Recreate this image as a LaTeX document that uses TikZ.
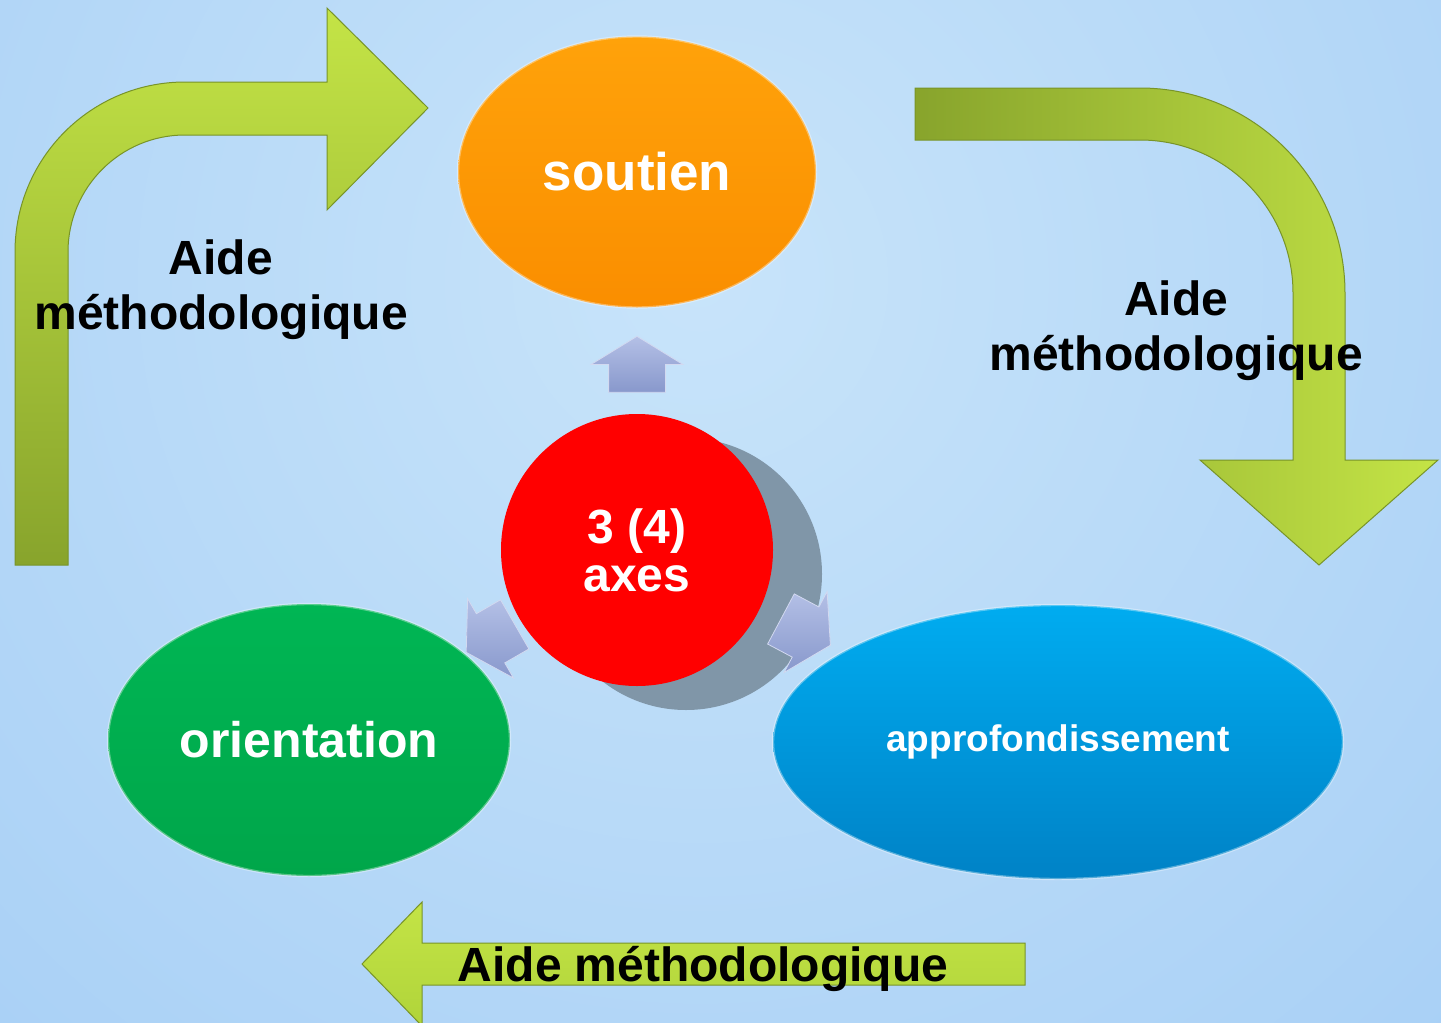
\documentclass[tikz,border=0pt]{standalone}
\usepackage{fontspec}
\setmainfont{Liberation Sans}
\usetikzlibrary{shapes.geometric,shapes.arrows}

\definecolor{bgside}{RGB}{156,200,244}
\definecolor{bgmid}{RGB}{200,228,250}
\definecolor{leaf}{RGB}{176,212,58}
\definecolor{leafdark}{RGB}{136,164,44}
\definecolor{leaflight}{RGB}{196,228,70}
\definecolor{leafedge}{RGB}{120,148,40}
\definecolor{orangetop}{RGB}{255,162,10}
\definecolor{orangebot}{RGB}{250,142,0}
\definecolor{greentop}{RGB}{0,182,84}
\definecolor{greenbot}{RGB}{0,166,74}
\definecolor{bluetop}{RGB}{0,172,240}
\definecolor{bluebot}{RGB}{0,130,198}
\definecolor{shadowgrey}{RGB}{128,150,168}
\definecolor{ptrtop}{RGB}{180,192,230}
\definecolor{ptrbot}{RGB}{136,152,204}

\begin{document}
\begin{tikzpicture}[x=0.5pt,y=-0.5pt,
    bubble/.style={ellipse,text=white,inner sep=0pt,draw=white,draw opacity=0.35,line width=1.2pt},
    pointer/.style={single arrow,draw=ptrtop!60!white,line width=0.4pt,top color=ptrtop,bottom color=ptrbot,
        minimum height=28pt,minimum width=45.5pt,single arrow head extend=8.75pt,single arrow tip angle=117,
        inner xsep=0pt,inner ysep=14pt},
    aidetext/.style={font=\bfseries\fontsize{24}{27.5}\selectfont,align=center,inner sep=0pt}]
    \useasboundingbox (0,0) rectangle (1441,1023);
    \clip (0,0) rectangle (1441,1023);
    \fill[bgside] (0,0) rectangle (1441,1023);
    \shade[inner color=bgmid,outer color=bgside] (700,280) circle[radius=1500];

    % bent arrows
    \shade[top color=leaflight,bottom color=leafdark,draw=leafedge,line width=0.5pt]
        (15,565)--(15,252) arc[start angle=180,end angle=270,radius=170]--(327,82)--(327,8)--(428,108)
        --(327,210)--(327,135)--(185,135) arc[start angle=270,end angle=180,radius=117]--(68,565)--cycle;
    \shade[left color=leafdark,right color=leaflight,draw=leafedge,line width=0.5pt]
        (915,88)--(1140,88) arc[start angle=270,end angle=360,radius=205]--(1345,460)--(1438,460)--(1319,565)
        --(1200,460)--(1293,460)--(1293,293) arc[start angle=0,end angle=-90,radius=153]--(915,140)--cycle;
    \shade[top color=leaflight,bottom color=leaf,draw=leafedge,line width=0.5pt]
        (1025,943)--(422,943)--(422,902)--(362,964)--(422,1026)--(422,985)--(1025,985)--cycle;

    \node[aidetext] (aideleft) at (221,290) {Aide\\méthodologique};
    \node[aidetext] (aideright) at (1176,331) {Aide\\méthodologique};
    \node[aidetext] (aidebottom) at (703,969) {Aide méthodologique};

    % centre
    \fill[shadowgrey] (686,574) circle[radius=136];
    \node[pointer,rotate=90] (ptrup) at (637,373) {};
    \node[pointer,rotate=210] (ptrleft) at (498,634) {};
    \node[pointer,rotate=-28] (ptrright) at (798,628) {};
    \node[circle,fill=red,minimum size=136pt,inner sep=0pt,text=white,align=center,
        font=\bfseries\fontsize{24}{24}\selectfont] (axes) at (637,550) {3 (4)\\axes};

    \node[bubble,minimum width=179pt,minimum height=135.5pt,top color=orangetop,bottom color=orangebot,
        font=\bfseries\fontsize{26.5}{30}\selectfont] (soutien) at (637,172) {soutien};
    \node[bubble,minimum width=201pt,minimum height=136pt,top color=greentop,bottom color=greenbot,
        font=\bfseries\fontsize{25}{30}\selectfont] (orientation) at (309,740) {orientation};
    \node[bubble,minimum width=285pt,minimum height=137pt,top color=bluetop,bottom color=bluebot,
        font=\bfseries\fontsize{18.5}{22}\selectfont] (approf) at (1058,742) {approfondissement};
\end{tikzpicture}
\end{document}
